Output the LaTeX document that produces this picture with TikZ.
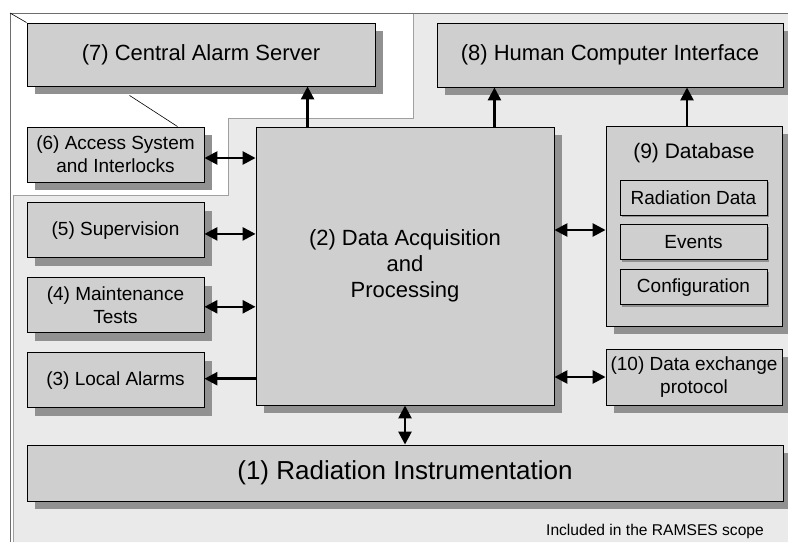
\documentclass[tikz,border=0pt]{standalone}
\usepackage{fontspec}
\setmainfont{Liberation Sans}
\usetikzlibrary{positioning, arrows.meta, shadows}
\definecolor{boxgray}{HTML}{CFCFCF}
\definecolor{shadowgray}{HTML}{919191}
\definecolor{scopegray}{HTML}{EAEAEA}
\definecolor{scopeline}{HTML}{A0A0A0}
\definecolor{framegray}{HTML}{6E6E6E}
\tikzset{
  block/.style={rectangle, draw=black, line width=0.9pt, fill=boxgray, inner sep=0pt, align=center, font=\fontsize{19}{23}\selectfont, drop shadow={shadow xshift=8pt, shadow yshift=-8pt, fill=shadowgray, opacity=1}},
  bigblock/.style={block, font=\fontsize{22}{26}\selectfont},
  sideblock/.style={block, minimum width=177pt, minimum height=55pt},
  subblock/.style={rectangle, draw=black, line width=0.9pt, fill=boxgray, inner sep=0pt, minimum width=147pt, minimum height=35pt, font=\fontsize{19}{23}\selectfont, drop shadow={shadow xshift=2pt, shadow yshift=-2pt, fill=shadowgray, opacity=1}},
  arrow/.style={line width=2.6pt, -{Triangle[length=13pt, width=13pt]}},
  biarrow/.style={arrow, {Triangle[length=13pt, width=13pt]}-{Triangle[length=13pt, width=13pt]}}
}
\begin{document}
\begin{tikzpicture}[x=1pt, y=-1pt, node distance=19pt]
        \useasboundingbox (0,0) rectangle (788,542);
        % RAMSES scope and outer frame
        \fill [scopegray] (13,195) -- (228,195) -- (228,118) -- (413,118) -- (413,13) -- (788,13) -- (788,542) -- (13,542) -- cycle;
        \draw [scopeline, line width=0.8pt] (13,542) -- (13,195) -- (228,195) -- (228,118) -- (413,118) -- (413,13);
        \coordinate (corner) at (10,13);
        \draw [framegray, line width=0.8pt] (10,542) -- (corner) -- (788,13);

        \node (cas) [bigblock, minimum width=348pt, minimum height=63pt] at (201,54.5) {(7) Central Alarm Server};
        \node (hci) [bigblock, minimum width=346pt, minimum height=64pt] at (610,55) {(8) Human Computer Interface};
        \node (access) [sideblock] at (115.5,154.5) {(6) Access System\\and Interlocks};
        \node (superv) [sideblock, below=20pt of access] {(5) Supervision};
        \node (maint) [sideblock, below=of superv] {(4) Maintenance\\Tests};
        \node (localalarm) [sideblock, below=of maint] {(3) Local Alarms};
        \node (daq) [bigblock, minimum width=298pt, minimum height=278pt] at (405,266) {(2) Data Acquisition\\and\\Processing};
        \node (db) [block, minimum width=176pt, minimum height=200pt] at (694,226) {};
        \node (dbtitle) [font=\fontsize{21}{25}\selectfont] at (694,153) {(9) Database};
        \node (raddata) [subblock] at (693.5,197.5) {Radiation Data};
        \node (events) [subblock, below=9pt of raddata] {Events};
        \node (config) [subblock, below=9pt of events] {Configuration};
        \node (exchange) [block, minimum width=176pt, minimum height=56pt] at (694,377) {(10) Data exchange\\protocol};
        \node (instr) [block, font=\fontsize{26}{30}\selectfont, minimum width=756pt, minimum height=56pt] at (405,473) {(1) Radiation Instrumentation};
        \node (scopelabel) [font=\fontsize{15.6}{18}\selectfont] at (655,531) {Included in the RAMSES scope};

        \draw [line width=0.6pt] (corner) -- (cas.north west);
        \draw [line width=0.6pt] ([xshift=103pt, yshift=-9pt]cas.south west) -- ([xshift=151pt]access.north west);

        \draw [biarrow] ([yshift=-3.5pt]access.east) -- ([yshift=-3.5pt]access.east -| daq.west);
        \draw [biarrow] ([yshift=-3.5pt]superv.east) -- ([yshift=-3.5pt]superv.east -| daq.west);
        \draw [biarrow] ([yshift=-1.5pt]maint.east) -- ([yshift=-1.5pt]maint.east -| daq.west);
        \draw [arrow] ([yshift=1.5pt]localalarm.east -| daq.west) -- ([yshift=1.5pt]localalarm.east);
        \draw [arrow] ([xshift=52pt]daq.north west) -- ([xshift=52pt]daq.north west |- cas.south);
        \draw [arrow] ([xshift=-60pt]daq.north east) -- ([xshift=-60pt]daq.north east |- hci.south);
        \draw [arrow] ([xshift=-7pt]db.north) -- ([xshift=-7pt]db.north |- hci.south);
        \draw [biarrow] ([yshift=-4pt]daq.east |- db.west) -- ([yshift=-4pt]db.west);
        \draw [biarrow] (daq.east |- exchange.west) -- (exchange.west);
        \draw [biarrow] (daq.south) -- (instr.north);
    \end{tikzpicture}
\end{document}
